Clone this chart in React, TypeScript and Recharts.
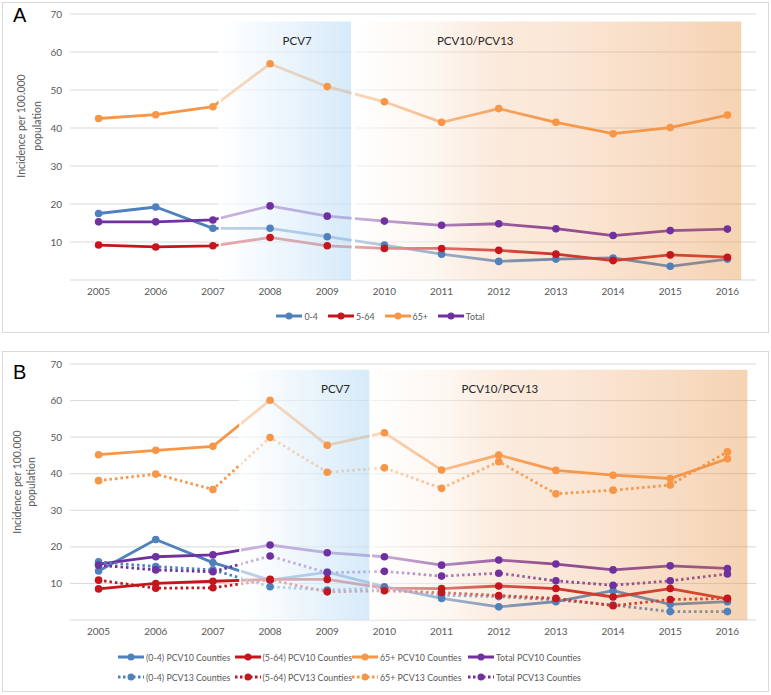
import React from 'react'
import { LineChart, Line, XAxis, YAxis, CartesianGrid, ReferenceArea } from 'recharts'

const years = [2005, 2006, 2007, 2008, 2009, 2010, 2011, 2012, 2013, 2014, 2015, 2016]
const yTicks = [0, 10, 20, 30, 40, 50, 60, 70]

// Panel A – all counties
const a04 = [17.5, 19.2, 13.6, 13.6, 11.4, 9.2, 6.8, 4.9, 5.5, 5.8, 3.6, 5.5]
const a564 = [9.2, 8.7, 9.0, 11.2, 9.0, 8.3, 8.3, 7.8, 6.8, 5.1, 6.6, 6.0]
const a65 = [42.5, 43.5, 45.6, 56.9, 50.9, 46.9, 41.5, 45.1, 41.5, 38.5, 40.1, 43.4]
const aTotal = [15.3, 15.3, 15.8, 19.5, 16.8, 15.5, 14.4, 14.8, 13.5, 11.7, 13.0, 13.4]

// Panel B – PCV10 vs PCV13 counties
const b04v10 = [13.4, 22.0, 15.7, 10.9, 13.1, 9.1, 5.9, 3.6, 5.0, 8.0, 4.3, 5.0]
const b04v13 = [15.9, 14.6, 13.7, 9.1, 8.2, 8.7, 6.8, 6.4, 5.5, 4.1, 2.3, 2.3]
const b564v10 = [8.5, 10.0, 10.6, 11.1, 11.1, 8.7, 8.6, 9.3, 8.6, 6.3, 8.6, 5.8]
const b564v13 = [10.9, 8.7, 8.8, 11.0, 7.7, 8.0, 7.5, 6.7, 5.9, 3.9, 5.6, 5.9]
const b65v10 = [45.2, 46.4, 47.5, 60.1, 47.8, 51.2, 41.0, 45.1, 40.9, 39.6, 38.7, 44.1]
const b65v13 = [38.1, 39.9, 35.7, 49.9, 40.4, 41.6, 36.0, 43.3, 34.5, 35.5, 36.9, 46.0]
const bTotV10 = [15.3, 17.3, 17.8, 20.5, 18.4, 17.3, 15.0, 16.4, 15.3, 13.7, 14.8, 14.1]
const bTotV13 = [15.0, 13.7, 13.2, 17.5, 12.9, 13.3, 12.0, 12.8, 10.7, 9.5, 10.7, 12.6]

const BLUE = '#4f81bd'
const RED = '#c4161c'
const ORANGE = '#f79646'
const PURPLE = '#7030a0'
const FONT = 'Lato, "Open Sans", sans-serif'
const TEXT = '#595959'

type Series = { key: string; name: string; color: string; dotted?: boolean; values: number[] }

const seriesA: Series[] = [
  { key: 'a04', name: '0-4', color: BLUE, values: a04 },
  { key: 'a564', name: '5-64', color: RED, values: a564 },
  { key: 'a65', name: '65+', color: ORANGE, values: a65 },
  { key: 'aTotal', name: 'Total', color: PURPLE, values: aTotal },
]

const seriesB: Series[] = [
  { key: 'b04v10', name: '(0-4) PCV10 Counties', color: BLUE, values: b04v10 },
  { key: 'b564v10', name: '(5-64) PCV10 Counties', color: RED, values: b564v10 },
  { key: 'b65v10', name: '65+ PCV10 Counties', color: ORANGE, values: b65v10 },
  { key: 'bTotV10', name: 'Total PCV10 Counties', color: PURPLE, values: bTotV10 },
  { key: 'b04v13', name: '(0-4) PCV13 Counties', color: BLUE, dotted: true, values: b04v13 },
  { key: 'b564v13', name: '(5-64) PCV13 Counties', color: RED, dotted: true, values: b564v13 },
  { key: 'b65v13', name: '65+ PCV13 Counties', color: ORANGE, dotted: true, values: b65v13 },
  { key: 'bTotV13', name: 'Total PCV13 Counties', color: PURPLE, dotted: true, values: bTotV13 },
]

function toRows(series: Series[]) {
  return years.map((year, i) => {
    const row: Record<string, number> = { year }
    series.forEach(s => { row[s.key] = s.values[i] })
    return row
  })
}

type Region = { x1: number; x2: number; kind: 'pcv7' | 'pcv10'; label: string; dx: number }

type PanelProps = {
  id: string
  top: number
  marginTop: number
  regionTop: number
  series: Series[]
  regions: Region[]
  gaps: [number, number][]
  titleShift: number
  titleX: [number, number]
}

function LegendIcon({ color, dotted }: { color: string; dotted?: boolean }) {
  return (
    <svg width={26} height={8} style={{ display: 'block' }}>
      <line x1={0} y1={4} x2={26} y2={4} stroke={color} strokeWidth={3}
        strokeDasharray={dotted ? '2.5 2.5' : undefined} />
      <circle cx={13} cy={4} r={3.5} fill={color} />
    </svg>
  )
}

function Panel({ id, top, marginTop, regionTop, series, regions, gaps, titleShift, titleX }: PanelProps) {
  const data = toRows(series)
  const renderTitle = (props: any) => {
    const vb = props.viewBox || { x: 30, y: marginTop, width: 40, height: 260 }
    const cy = vb.y + vb.height / 2 + titleShift
    return (
      <g fontFamily={FONT} fontSize={10.5} fill={TEXT}>
        <text transform={`translate(${titleX[0]},${cy}) rotate(-90)`} textAnchor="middle" dominantBaseline="central">
          Incidence per 100.000
        </text>
        <text transform={`translate(${titleX[1]},${cy}) rotate(-90)`} textAnchor="middle" dominantBaseline="central">
          population
        </text>
      </g>
    )
  }
  const regionLabel = (text: string, dx: number) => (props: any) => {
    const vb = props.viewBox
    if (!vb) return null
    return (
      <text x={vb.x + vb.width / 2 + dx} y={vb.y + 19} textAnchor="middle" dominantBaseline="central"
        fontFamily={FONT} fontSize={11.5} fill="#262626">
        {text}
      </text>
    )
  }
  return (
    <div style={{ position: 'absolute', left: 0, top }}>
      <LineChart width={771} height={300} data={data}
        margin={{ top: marginTop, right: 15, bottom: 0, left: 30 }}>
        <defs>
          <linearGradient id={`pcv7${id}`} x1="0" y1="0" x2="1" y2="0">
            <stop offset="0%" stopColor="#ffffff" stopOpacity={0.62} />
            <stop offset="100%" stopColor="#c6e2f6" stopOpacity={0.72} />
          </linearGradient>
          <linearGradient id={`pcv10${id}`} x1="0" y1="0" x2="1" y2="0">
            <stop offset="0%" stopColor="#ffffff" stopOpacity={0.62} />
            <stop offset="20%" stopColor="#fbeee2" stopOpacity={0.45} />
            <stop offset="50%" stopColor="#eea060" stopOpacity={0.24} />
            <stop offset="100%" stopColor="#e8964a" stopOpacity={0.42} />
          </linearGradient>
        </defs>
        <CartesianGrid vertical={false} stroke="#d9d9d9" />
        <XAxis type="number" dataKey="year" domain={[2004.5, 2016.5]} ticks={years} interval={0}
          axisLine={false} tickLine={false} height={20} allowDataOverflow
          tick={{ fill: TEXT, fontSize: 10, fontFamily: FONT }} />
        <YAxis domain={[0, 70]} ticks={yTicks} width={40} axisLine={false} tickLine={false}
          tickFormatter={(v: number) => (v === 0 ? '' : String(v))}
          tick={{ fill: TEXT, fontSize: 10, fontFamily: FONT }}
          label={{ content: renderTitle }} />
        {series.map(s => (
          <Line key={s.key} type="linear" dataKey={s.key} name={s.name} stroke={s.color}
            strokeWidth={2.8} strokeDasharray={s.dotted ? '2.5 3' : undefined}
            dot={{ r: 3.8, fill: s.color, stroke: 'none' }} activeDot={false}
            isAnimationActive={false} />
        ))}
        {regions.map(r => (
          <ReferenceArea key={r.kind} x1={r.x1} x2={r.x2} y1={0} y2={regionTop} ifOverflow="visible"
            fill={`url(#${r.kind}${id})`} fillOpacity={1} stroke="none" zIndex={450}
            label={{ content: regionLabel(r.label, r.dx) }} />
        ))}
        {gaps.map(g => (
          <ReferenceArea key={g[0]} x1={g[0]} x2={g[1]} y1={0} y2={regionTop} ifOverflow="visible"
            fill="#ffffff" fillOpacity={1} stroke="none" zIndex={450} />
        ))}
      </LineChart>
    </div>
  )
}

export default function App() {
  const legendText: React.CSSProperties = { fontFamily: FONT, fontSize: 8.8, color: TEXT, whiteSpace: 'nowrap' }
  return (
    <div style={{ position: 'absolute', left: 0, top: 0, width: 771, height: 695, background: '#fff', overflow: 'hidden' }}>
      <div style={{ position: 'absolute', left: 2, top: 2, width: 765, height: 329, border: '1px solid #d9d9d9' }} />
      <div style={{ position: 'absolute', left: 2, top: 351, width: 765, height: 339, border: '1px solid #d9d9d9' }} />

      <Panel id="A" top={0} marginTop={14} regionTop={68} series={seriesA}
        regions={[
          { x1: 2007.14, x2: 2009.42, kind: 'pcv7', label: 'PCV7', dx: 11 },
          { x1: 2009.49, x2: 2016.24, kind: 'pcv10', label: 'PCV10/PCV13', dx: -73 },
        ]}
        gaps={[[2007.1, 2007.14], [2009.42, 2009.49]]}
        titleShift={-21} titleX={[21, 37]} />

      <Panel id="B" top={340} marginTop={24} regionTop={68.4} series={seriesB}
        regions={[
          { x1: 2007.5, x2: 2009.74, kind: 'pcv7', label: 'PCV7', dx: 30 },
          { x1: 2009.79, x2: 2016.35, kind: 'pcv10', label: 'PCV10/PCV13', dx: -60 },
        ]}
        gaps={[[2007.46, 2007.5], [2009.74, 2009.79]]}
        titleShift={-10} titleX={[17, 31]} />

      <div style={{ position: 'absolute', left: 13, top: 4, fontFamily: '"Liberation Sans", Arial, sans-serif', fontSize: 20, color: '#000' }}>A</div>
      <div style={{ position: 'absolute', left: 13, top: 361, fontFamily: '"Liberation Sans", Arial, sans-serif', fontSize: 20, color: '#000' }}>B</div>

      <div style={{ position: 'absolute', left: 0, top: 310, width: 771, height: 12, display: 'flex', justifyContent: 'center', alignItems: 'center' }}>
        {seriesA.map(s => (
          <div key={s.key} style={{ display: 'flex', alignItems: 'center', marginRight: 10 }}>
            <LegendIcon color={s.color} />
            <span style={{ ...legendText, marginLeft: 2 }}>{s.name}</span>
          </div>
        ))}
      </div>

      <div style={{ position: 'absolute', left: 118, top: 651, width: 480, display: 'grid', gridTemplateColumns: '117px 117px 116px 120px', rowGap: 8 }}>
        {seriesB.map(s => (
          <div key={s.key} style={{ display: 'flex', alignItems: 'center', height: 12 }}>
            <LegendIcon color={s.color} dotted={s.dotted} />
            <span style={{ ...legendText, marginLeft: 2 }}>{s.name}</span>
          </div>
        ))}
      </div>
    </div>
  )
}
